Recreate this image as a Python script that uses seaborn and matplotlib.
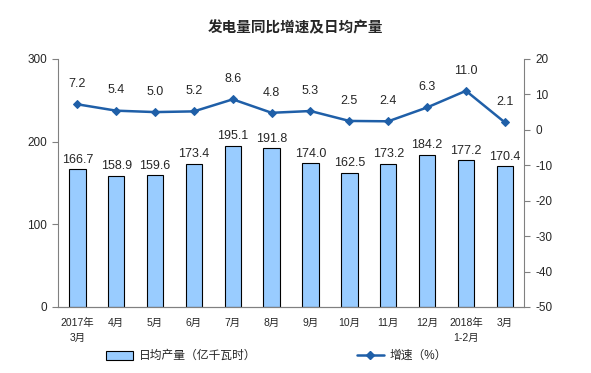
import numpy as np
import pandas as pd
import seaborn as sns
import matplotlib
matplotlib.use('Agg')
import matplotlib.pyplot as plt
from matplotlib.lines import Line2D
from matplotlib.patches import Patch

# chart data
months = ['2017年\n3月', '4月', '5月', '6月', '7月', '8月', '9月', '10月', '11月', '12月', '2018年\n1-2月', '3月']
daily_output = [166.7, 158.9, 159.6, 173.4, 195.1, 191.8, 174.0, 162.5, 173.2, 184.2, 177.2, 170.4]
growth = [7.2, 5.4, 5.0, 5.2, 8.6, 4.8, 5.3, 2.5, 2.4, 6.3, 11.0, 2.1]

sns.set_style('white')
plt.rcParams['font.family'] = ['Liberation Sans', 'Noto Sans CJK SC', 'DejaVu Sans']
plt.rcParams['axes.unicode_minus'] = False

bar_color = '#99CCFF'
line_color = '#1F5FA8'

fig = plt.figure(figsize=(5.91, 3.73), dpi=100)
ax = fig.add_axes([0.098, 0.177, 0.789, 0.665])

df = pd.DataFrame({'month': months, 'output': daily_output})
sns.barplot(data=df, x='month', y='output', ax=ax, color=bar_color,
            edgecolor='black', linewidth=0.8, width=0.42, saturation=1)

for i, v in enumerate(daily_output):
    ax.text(i, v + 4, f'{v:.1f}', ha='center', va='bottom', fontsize=9)

ax.set_ylim(0, 300)
ax.set_yticks([0, 100, 200, 300])
ax.set_xlim(-0.5, len(months) - 0.5)
ax.set_xlabel('')
ax.set_ylabel('')

# growth line on the right axis
ax2 = ax.twinx()
sns.lineplot(x=np.arange(len(months)), y=growth, ax=ax2, color=line_color,
             marker='D', markersize=4, markeredgecolor=line_color, linewidth=1.8)
for i, v in enumerate(growth):
    ax2.text(i, v + 4, f'{v:.1f}', ha='center', va='bottom', fontsize=9)
ax2.set_ylim(-50, 20)
ax2.set_yticks(range(-50, 21, 10))
ax2.set_xlim(-0.5, len(months) - 0.5)

# spines
for a in (ax, ax2):
    a.spines['top'].set_visible(False)
    for s in ('left', 'right', 'bottom'):
        a.spines[s].set_color('#808080')
        a.spines[s].set_linewidth(0.8)
ax.spines['right'].set_visible(False)
ax2.spines['left'].set_visible(False)

ax.tick_params(axis='y', direction='out', length=4, width=0.8, color='#808080', labelsize=8.5, pad=4)
ax2.tick_params(axis='y', direction='out', length=4, width=0.8, color='#808080', labelsize=8.5, pad=4)

# x ticks: labels centered, tick marks between categories
ax.set_xticks(range(len(months)))
ax.set_xticklabels(months, fontsize=7.5, linespacing=1.6)
ax.tick_params(axis='x', which='major', length=0, pad=8)
ax.set_xticks(np.arange(-0.5, len(months), 1), minor=True)
ax.tick_params(axis='x', which='minor', length=4, width=0.8, color='#808080', direction='out')

fig.suptitle('发电量同比增速及日均产量', x=0.5, y=0.945, fontsize=10.5, fontweight='bold')

handles = [Patch(facecolor=bar_color, edgecolor='black', linewidth=0.8),
           Line2D([0], [0], color=line_color, marker='D', markersize=4, linewidth=1.8)]
fig.legend(handles, ['日均产量（亿千瓦时）', '增速（%）'], loc='center', bbox_to_anchor=(0.468, 0.045),
           ncol=2, frameon=False, fontsize=8.5, columnspacing=8.5, handlelength=2.3, handleheight=0.8,
           handletextpad=0.5)

fig.savefig('out.png', dpi=100)
